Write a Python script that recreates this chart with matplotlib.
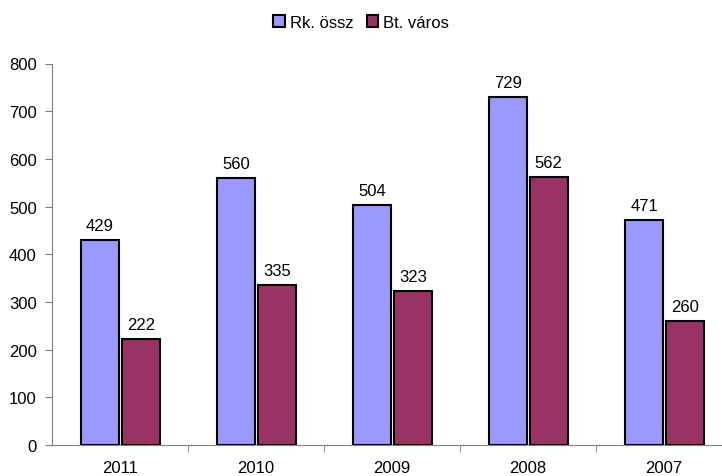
import numpy as np
import matplotlib
matplotlib.use("Agg")
import matplotlib.pyplot as plt

years = ["2011", "2010", "2009", "2008", "2007"]
rk_ossz = [429, 560, 504, 729, 471]
bt_varos = [222, 335, 323, 562, 260]

plt.rcParams["font.family"] = ["Liberation Sans", "DejaVu Sans"]
plt.rcParams["font.size"] = 12

fig = plt.figure(figsize=(7.22, 4.77), dpi=100)
# axes run a bit past the right edge, as in the original
ax = fig.add_axes([52 / 722, 31 / 477, 680 / 722, 381.5 / 477])

x = np.arange(len(years))
w = 0.28
b1 = ax.bar(x - 0.147, rk_ossz, w, color="#9999FF", edgecolor="black", linewidth=1.5,
            label="Rk. össz")
b2 = ax.bar(x + 0.153, bt_varos, w, color="#993366", edgecolor="black", linewidth=1.5,
            label="Bt. város")
for bars in (b1, b2):
    for rect in bars:
        ax.annotate(f"{int(rect.get_height())}",
                    (rect.get_x() + rect.get_width() / 2, rect.get_height()),
                    xytext=(0, 5), textcoords="offset points",
                    ha="center", va="bottom")

ax.set_xlim(-0.5, len(years) - 0.5)
ax.set_ylim(0, 800)
ax.set_yticks(range(0, 801, 100))
ax.set_xticks(x)
ax.set_xticklabels(years)
ax.set_xticks(np.arange(0.5, len(years) - 0.5, 1), minor=True)
ax.tick_params(axis="x", which="major", length=0, pad=11)
ax.tick_params(axis="x", which="minor", length=5, color="#808080")
ax.tick_params(axis="y", length=5, color="#808080", pad=6)
for s in ("top", "right"):
    ax.spines[s].set_visible(False)
for s in ("left", "bottom"):
    ax.spines[s].set_color("#808080")

fig.legend(loc="center", bbox_to_anchor=(0.5, 1 - 23 / 477), ncol=2, frameon=False,
           handlelength=0.7, handleheight=0.7, handletextpad=0.3, columnspacing=0.8)

fig.savefig("out.png", dpi=100)
